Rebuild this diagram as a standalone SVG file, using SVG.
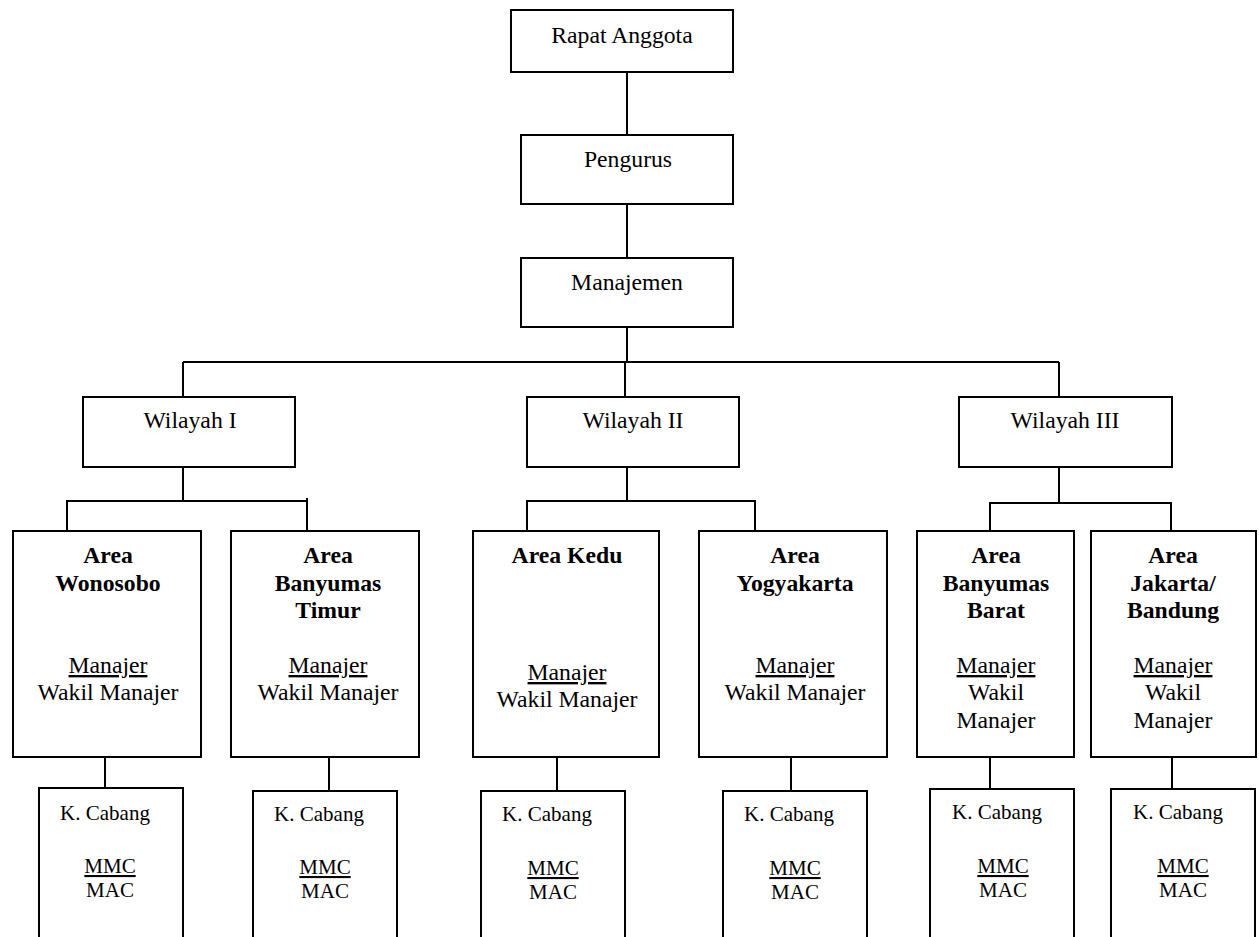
<svg xmlns="http://www.w3.org/2000/svg" width="1259" height="937" viewBox="0 0 1259 937">
<style>
rect{fill:#fff;stroke:#000;stroke-width:2}
.c line,.c polyline{stroke:#000;stroke-width:2;fill:none}
text{font-family:"Liberation Serif","Times New Roman",serif;font-size:23.7px;fill:#000;text-anchor:middle}
.b{font-weight:bold}
.s{font-size:21px}
.u{text-decoration:underline}
</style>
<rect x="0" y="0" width="1259" height="937" style="stroke:none"/>
<g class="c" id="connectors">
<line x1="627" y1="72" x2="627" y2="135"/>
<line x1="627" y1="204" x2="627" y2="258"/>
<line x1="627" y1="327" x2="627" y2="362"/>
<line x1="183" y1="362" x2="1059" y2="362"/>
<line x1="183" y1="362" x2="183" y2="397"/>
<line x1="625" y1="362" x2="625" y2="397"/>
<line x1="1059" y1="362" x2="1059" y2="397"/>
<line x1="183" y1="467" x2="183" y2="501"/>
<polyline points="67,531 67,501 307,501"/>
<line x1="307" y1="498" x2="307" y2="531"/>
<line x1="627" y1="467" x2="627" y2="501"/>
<polyline points="527,531 527,501 755,501 755,531"/>
<line x1="1059" y1="467" x2="1059" y2="503"/>
<polyline points="990,531 990,503 1171,503 1171,531"/>
<line x1="105" y1="757" x2="105" y2="788"/>
<line x1="329" y1="757" x2="329" y2="791"/>
<line x1="557" y1="757" x2="557" y2="791"/>
<line x1="791" y1="757" x2="791" y2="791"/>
<line x1="990" y1="754" x2="990" y2="789"/>
<line x1="1172" y1="757" x2="1172" y2="789"/>
</g>
<g id="rapat"><rect x="511" y="10" width="222" height="62"/><text x="622" y="43">Rapat Anggota</text></g>
<g id="pengurus"><rect x="521" y="135" width="212" height="69"/><text x="628" y="167">Pengurus</text></g>
<g id="manajemen"><rect x="521" y="258" width="212" height="69"/><text x="627" y="290">Manajemen</text></g>
<g id="wil1"><rect x="83" y="397" width="212" height="70"/><text x="190" y="428">Wilayah I</text></g>
<g id="wil2"><rect x="527" y="397" width="212" height="70"/><text x="633" y="428">Wilayah II</text></g>
<g id="wil3"><rect x="959" y="397" width="213" height="70"/><text x="1065" y="428">Wilayah III</text></g>
<g id="area-wonosobo"><rect x="13" y="531" width="188" height="226"/>
<text class="b" x="108" y="563">Area</text><text class="b" x="108" y="591">Wonosobo</text>
<text class="u" x="108" y="673">Manajer</text><text x="108" y="700">Wakil Manajer</text></g>
<g id="area-banyumas-timur"><rect x="231" y="531" width="188" height="226"/>
<text class="b" x="328" y="563">Area</text><text class="b" x="328" y="591">Banyumas</text><text class="b" x="328" y="618">Timur</text>
<text class="u" x="328" y="673">Manajer</text><text x="328" y="700">Wakil Manajer</text></g>
<g id="area-kedu"><rect x="473" y="531" width="186" height="226"/>
<text class="b" x="567" y="563">Area Kedu</text>
<text class="u" x="567" y="680">Manajer</text><text x="567" y="707">Wakil Manajer</text></g>
<g id="area-yogyakarta"><rect x="699" y="531" width="188" height="226"/>
<text class="b" x="795" y="563">Area</text><text class="b" x="795" y="591">Yogyakarta</text>
<text class="u" x="795" y="673">Manajer</text><text x="795" y="700">Wakil Manajer</text></g>
<g id="area-banyumas-barat"><rect x="917" y="531" width="157" height="226"/>
<text class="b" x="996" y="563">Area</text><text class="b" x="996" y="591">Banyumas</text><text class="b" x="996" y="618">Barat</text>
<text class="u" x="996" y="673">Manajer</text><text x="996" y="700">Wakil</text><text x="996" y="728">Manajer</text></g>
<g id="area-jakarta"><rect x="1091" y="531" width="165" height="226"/>
<text class="b" x="1173" y="563">Area</text><text class="b" x="1173" y="591">Jakarta/</text><text class="b" x="1173" y="618">Bandung</text>
<text class="u" x="1173" y="673">Manajer</text><text x="1173" y="700">Wakil</text><text x="1173" y="728">Manajer</text></g>
<g id="cabang1"><rect x="39" y="788" width="144" height="170"/><text class="s" x="105" y="820">K. Cabang</text><text class="s u" x="110" y="873">MMC</text><text class="s" x="110" y="897">MAC</text></g>
<g id="cabang2"><rect x="253" y="791" width="144" height="170"/><text class="s" x="319" y="821">K. Cabang</text><text class="s u" x="325" y="874">MMC</text><text class="s" x="325" y="898">MAC</text></g>
<g id="cabang3"><rect x="481" y="791" width="144" height="170"/><text class="s" x="547" y="821">K. Cabang</text><text class="s u" x="553" y="875">MMC</text><text class="s" x="553" y="899">MAC</text></g>
<g id="cabang4"><rect x="723" y="791" width="144" height="170"/><text class="s" x="789" y="821">K. Cabang</text><text class="s u" x="795" y="875">MMC</text><text class="s" x="795" y="899">MAC</text></g>
<g id="cabang5"><rect x="930" y="789" width="144" height="170"/><text class="s" x="997" y="819">K. Cabang</text><text class="s u" x="1003" y="873">MMC</text><text class="s" x="1003" y="897">MAC</text></g>
<g id="cabang6"><rect x="1111" y="789" width="144" height="170"/><text class="s" x="1178" y="819">K. Cabang</text><text class="s u" x="1183" y="873">MMC</text><text class="s" x="1183" y="897">MAC</text></g>
</svg>
